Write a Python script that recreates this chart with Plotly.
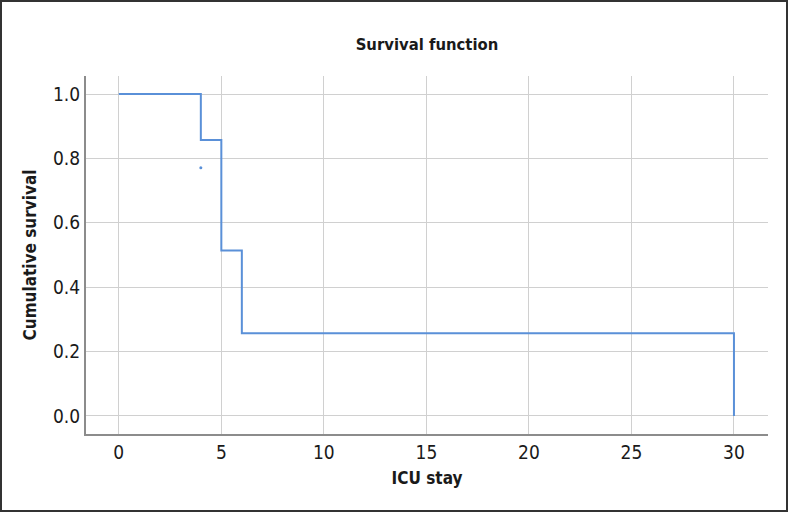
import plotly.graph_objects as go

# Kaplan-Meier data
event_times = [0, 4, 5, 6, 30]
survival = [1.0, 0.857, 0.514, 0.257, 0.0]
censor_x = [4]
censor_y = [0.771]
x_ticks = [0, 5, 10, 15, 20, 25, 30]
y_ticks = [0.0, 0.2, 0.4, 0.6, 0.8, 1.0]

# build step path
sx, sy = [], []
for i, (t, s) in enumerate(zip(event_times, survival)):
    if i > 0:
        sx.append(t); sy.append(survival[i - 1])
    sx.append(t); sy.append(s)

LINE = "#5a90d8"
FONT = "DejaVu Sans Condensed"

fig = go.Figure()
fig.add_trace(go.Scatter(x=sx, y=sy, mode="lines", line=dict(color=LINE, width=2),
                         showlegend=False, hoverinfo="skip"))
fig.add_trace(go.Scatter(x=censor_x, y=censor_y, mode="markers",
                         marker=dict(color=LINE, size=3, symbol="circle"),
                         showlegend=False))

L, R, T, B = 86, 20, 76, 78
W, H = 788, 512
pw, ph = W - L - R, H - T - B

fig.update_layout(
    width=W, height=H,
    margin=dict(l=L, r=R, t=T, b=B),
    paper_bgcolor="white", plot_bgcolor="white",
    font=dict(family=FONT, color="#1a1a1a"),
    title=dict(text="<b>Survival function</b>", x=(L + pw / 2) / W, xanchor="center",
               y=1 - 44 / H, yanchor="middle", font=dict(size=16.5, family=FONT)),
    xaxis=dict(range=[-1.6, 31.66], tickvals=x_ticks, ticktext=[str(v) for v in x_ticks],
               showgrid=True, gridcolor="#d0d0d0", gridwidth=1, zeroline=False,
               showline=True, linecolor="#8c8c8c", linewidth=2,
               ticks="", tickfont=dict(size=19, family=FONT, color="#1a1a1a"),
               title=dict(text="<b>ICU stay</b>", font=dict(size=17, family=FONT), standoff=10)),
    yaxis=dict(range=[-0.056, 1.056], tickvals=y_ticks, ticktext=[f"{v:.1f}" for v in y_ticks],
               showgrid=True, gridcolor="#d0d0d0", gridwidth=1, zeroline=False,
               showline=True, linecolor="#8c8c8c", linewidth=2,
               ticks="", tickfont=dict(size=19, family=FONT, color="#1a1a1a"),
               title=dict(text="<b>Cumulative survival</b>", font=dict(size=17, family=FONT), standoff=12)),
)

# outer frame
fig.add_shape(type="rect", xref="paper", yref="paper",
              x0=(1 - L) / pw, x1=(W - 1 - L) / pw,
              y0=(H - B - (H - 1)) / ph, y1=(H - B - 1) / ph,
              line=dict(color="#333333", width=2), layer="above")

fig.write_html("out.html")
